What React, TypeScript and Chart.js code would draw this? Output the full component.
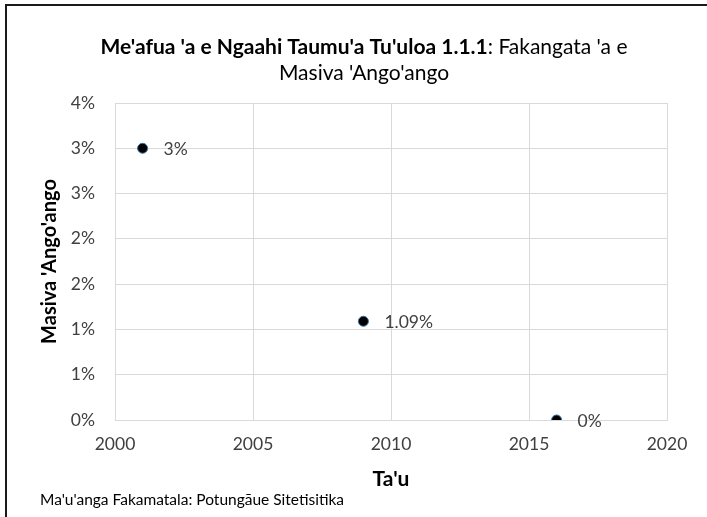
import React, { useEffect, useRef } from "react";
import { Chart, registerables } from "chart.js";

Chart.register(...registerables);

const years = [2001, 2009, 2016];
const values = [3, 1.09, 0];
const titleBold = "Me'afua 'a e Ngaahi Taumu'a Tu'uloa 1.1.1";
const titleRest = ": Fakangata 'a e";
const titleLine2 = "Masiva 'Ango'ango";
const yTitle = "Masiva 'Ango'ango";
const xTitle = "Ta'u";
const sourceNote = "Ma'u'anga Fakamatala: Potungāue Sitetisitika";

const FONT = "Lato, 'Open Sans', sans-serif";

const decorPlugin = {
  id: "decor",
  beforeDraw(chart: any) {
    const ctx = chart.ctx;
    ctx.save();
    ctx.fillStyle = "#ffffff";
    ctx.fillRect(0, 0, chart.width, chart.height);
    ctx.restore();
  },
  afterDraw(chart: any) {
    const ctx = chart.ctx;
    ctx.save();
    // frame lines (top and left)
    ctx.strokeStyle = "#1a1a1a";
    ctx.lineWidth = 2;
    ctx.beginPath();
    ctx.moveTo(6, 517);
    ctx.lineTo(6, 5);
    ctx.lineTo(707, 5);
    ctx.stroke();

    // title
    const cx = 364;
    ctx.fillStyle = "#000000";
    ctx.textBaseline = "middle";
    ctx.textAlign = "left";
    const boldFont = `bold 21px ${FONT}`;
    const normFont = `21px ${FONT}`;
    ctx.font = boldFont;
    const wb = ctx.measureText(titleBold).width;
    ctx.font = normFont;
    const wr = ctx.measureText(titleRest).width;
    const x0 = cx - (wb + wr) / 2;
    ctx.font = boldFont;
    ctx.fillText(titleBold, x0, 47);
    ctx.font = normFont;
    ctx.fillText(titleRest, x0 + wb, 47);
    ctx.textAlign = "center";
    ctx.fillText(titleLine2, cx, 73);

    // data labels
    const meta = chart.getDatasetMeta(0);
    ctx.font = `17.5px ${FONT}`;
    ctx.fillStyle = "#404040";
    ctx.textAlign = "left";
    meta.data.forEach((pt: any, i: number) => {
      ctx.fillText(`${values[i]}%`, pt.x + 21, pt.y + 1);
    });

    // source note
    ctx.font = `15.5px ${FONT}`;
    ctx.fillStyle = "#000000";
    ctx.fillText(sourceNote, 40, 500);
    ctx.restore();
  },
};

export default function App() {
  const ref = useRef<HTMLCanvasElement>(null);
  useEffect(() => {
    if (!ref.current) return;
    const chart = new Chart(ref.current, {
      type: "scatter",
      data: {
        datasets: [
          {
            data: years.map((y, i) => ({ x: y, y: values[i] })),
            backgroundColor: "#000000",
            borderColor: "#3a6fa8",
            borderWidth: 1,
            pointRadius: 5,
          },
        ],
      },
      options: {
        animation: false,
        responsive: false,
        devicePixelRatio: 1,
        layout: { padding: { top: 103, right: 40, bottom: 20, left: 30 } },
        plugins: {
          legend: { display: false },
          tooltip: { enabled: false },
          title: { display: false },
        },
        scales: {
          x: {
            type: "linear",
            min: 2000,
            max: 2020,
            ticks: {
              stepSize: 5,
              padding: 14,
              color: "#404040",
              font: { family: FONT, size: 17.5 },
              callback: (v: any) => String(v),
            },
            grid: { color: "#d9d9d9", drawTicks: false },
            border: { color: "#d9d9d9" },
            title: {
              display: true,
              text: xTitle,
              color: "#000000",
              font: { family: FONT, size: 21, weight: "bold" },
              padding: { top: 0, bottom: 5 },
            },
            afterFit: (s: any) => {
              s.height = 77;
            },
          },
          y: {
            min: 0,
            max: 3.5,
            ticks: {
              stepSize: 0.5,
              padding: 20,
              color: "#404040",
              font: { family: FONT, size: 17.5 },
              callback: (v: any) => `${Math.round(Number(v))}%`,
            },
            grid: { color: "#d9d9d9", drawTicks: false },
            border: { color: "#d9d9d9" },
            title: {
              display: true,
              text: yTitle,
              color: "#000000",
              font: { family: FONT, size: 20, weight: "bold" },
              padding: { top: 8, bottom: 0 },
            },
            afterFit: (s: any) => {
              s.width = 85;
            },
          },
        },
      },
      plugins: [decorPlugin],
    });
    return () => chart.destroy();
  }, []);
  return (
    <div style={{ position: "fixed", left: 0, top: 0, width: 707, height: 517 }}>
      <canvas ref={ref} width={707} height={517} style={{ display: "block" }} />
    </div>
  );
}
